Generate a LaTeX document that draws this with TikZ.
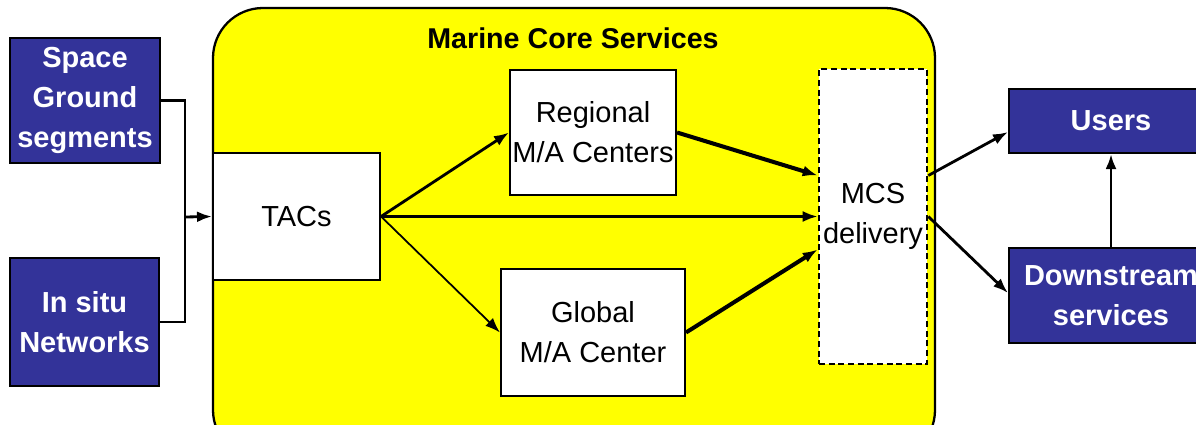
\documentclass[tikz,border=0pt]{standalone}
\usepackage{fontspec}
\setmainfont{Liberation Sans}
\usetikzlibrary{arrows.meta}
\definecolor{mcsblue}{RGB}{51,51,153}
\definecolor{mcsyellow}{RGB}{255,255,0}
\begin{document}
\begin{tikzpicture}[x=0.02cm,y=-0.02cm,
  font=\fontsize{16.5}{22.7}\selectfont,
  outbox/.style={draw=black, line width=1.2pt, fill=mcsblue, text=white, font=\fontsize{16.5}{22.7}\selectfont\bfseries, align=center, inner sep=0pt},
  inbox/.style={draw=black, line width=1.2pt, fill=white, align=center, inner sep=0pt},
  link/.style={line width=1.6pt, -{Latex[length=0.3cm,width=0.22cm]}}]
\useasboundingbox (0,0) rectangle (1196,425);
\clip (0,0) rectangle (1196,425);
\draw[fill=mcsyellow, line width=1.3pt, rounded corners=1cm] (213,8) rectangle (935,460);
\node[font=\fontsize{16.3}{20}\selectfont\bfseries] (title) at (573,38) {Marine Core Services};
\node[outbox, minimum width=3cm, minimum height=2.5cm] (space) at (85,100.5) {Space\\Ground\\segments};
\node[outbox, minimum width=2.98cm, minimum height=2.56cm] (insitu) at (84.5,322) {In situ\\Networks};
\node[inbox, minimum width=3.34cm, minimum height=2.54cm] (tac) at (296.5,216.5) {TACs};
\node[inbox, minimum width=3.32cm, minimum height=2.5cm] (regional) at (593,132.5) {Regional\\M/A Centers};
\node[inbox, minimum width=3.68cm, minimum height=2.54cm] (global) at (593,332.5) {Global\\M/A Center};
\node[inbox, dash pattern=on 3.5pt off 2pt, line width=1.5pt, minimum width=2.16cm, minimum height=5.9cm] (mcs) at (873,216.5) {MCS\\delivery};
\node[outbox, minimum width=4.08cm, minimum height=1.28cm] (users) at (1111,121) {Users};
\node[outbox, minimum width=4.08cm, minimum height=1.9cm] (down) at (1111,295.5) {Downstream\\services};
\coordinate (jn) at (185,217);
\draw[line width=1.6pt] (space.east) -| (jn) |- (insitu.east);
\draw[link] (jn) -- (tac.west);
\draw[link] (tac.east) -- (regional.west);
\draw[link] (tac.east) -- (mcs.west);
\draw[link, line width=1pt] (tac.east) -- (global.west);
\draw[link, line width=2.3pt] (regional.east) -- ([yshift=0.82cm]mcs.west);
\draw[link, line width=2.3pt] (global.east) -- ([yshift=-0.66cm]mcs.west);
\draw[link] ([yshift=0.82cm]mcs.east) -- ([yshift=-0.22cm]users.west);
\draw[link] (mcs.east) -- ([yshift=0.05cm]down.west);
\draw[link] (down.north) -- (users.south);
\end{tikzpicture}
\end{document}
